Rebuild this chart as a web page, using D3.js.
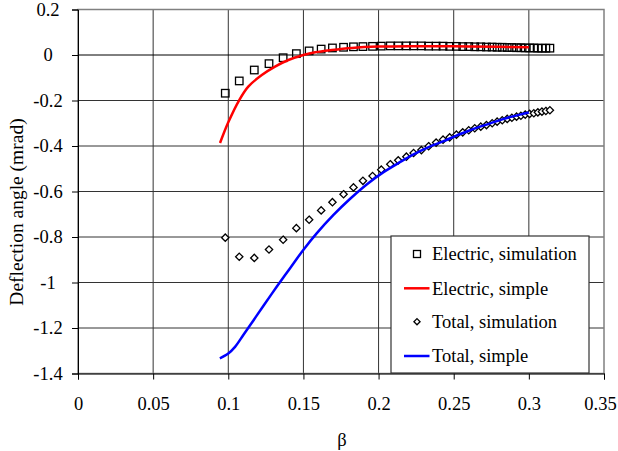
<!DOCTYPE html>
<html><head><meta charset="utf-8">
<script src="https://cdn.jsdelivr.net/npm/d3@7"></script>
<style>body{margin:0;background:#fff}svg{display:block}text{font-family:"Liberation Serif","Times New Roman",serif;fill:#000}</style>
</head><body><svg id="c" width="618" height="451"></svg>
<script>
const simBeta = [0.098,0.1073,0.1173,0.1271,0.1365,0.1453,0.1538,0.1618,0.1693,0.1767,0.1833,0.1896,0.196,0.2018,0.2078,0.2131,0.2185,0.2233,0.2285,0.2333,0.2383,0.2429,0.2473,0.2518,0.256,0.26,0.264,0.268,0.2718,0.2756,0.2789,0.2823,0.2856,0.2887,0.2918,0.2947,0.2976,0.3005,0.3033,0.306,0.3087,0.3113,0.314];
const electricSim = [-0.168,-0.114,-0.066,-0.038,-0.012,0.006,0.018,0.026,0.031,0.034,0.036,0.037,0.038,0.039,0.040,0.040,0.040,0.040,0.040,0.039,0.039,0.039,0.038,0.038,0.037,0.037,0.036,0.036,0.035,0.035,0.034,0.034,0.033,0.033,0.032,0.032,0.031,0.031,0.031,0.030,0.030,0.030,0.030];
const totalSim = [-0.803,-0.887,-0.892,-0.855,-0.812,-0.761,-0.724,-0.683,-0.647,-0.612,-0.582,-0.553,-0.532,-0.504,-0.480,-0.463,-0.447,-0.431,-0.418,-0.401,-0.385,-0.372,-0.362,-0.350,-0.340,-0.331,-0.322,-0.315,-0.308,-0.300,-0.293,-0.287,-0.281,-0.276,-0.271,-0.267,-0.262,-0.259,-0.256,-0.252,-0.249,-0.246,-0.243];
const electricSimpleBeta = [0.0945,0.1,0.1073,0.1133,0.1223,0.1311,0.14,0.15,0.1578,0.1689,0.1823,0.2,0.22,0.25,0.28,0.30];
const electricSimple = [-0.387,-0.296,-0.198,-0.139,-0.088,-0.051,-0.022,0.0,0.012,0.022,0.031,0.037,0.039,0.038,0.036,0.034];
const totalSimpleBeta = [0.0944,0.1,0.1045,0.11,0.1166,0.1233,0.1322,0.141,0.1499,0.1588,0.17,0.1811,0.1923,0.2033,0.2145,0.2233,0.2333,0.2429,0.2518,0.26,0.268,0.2756,0.2823,0.2887,0.2947,0.30];
const totalSimple = [-1.333,-1.312,-1.283,-1.231,-1.168,-1.103,-1.019,-0.938,-0.857,-0.784,-0.703,-0.632,-0.568,-0.515,-0.470,-0.437,-0.405,-0.380,-0.354,-0.333,-0.314,-0.297,-0.283,-0.271,-0.261,-0.253];
const xTicks = [0,0.05,0.1,0.15,0.2,0.25,0.3,0.35];
const yTicks = [0.2,0,-0.2,-0.4,-0.6,-0.8,-1,-1.2,-1.4];
const legendLabels = ["Electric, simulation","Electric, simple","Total, simulation","Total, simple"];

const svg = d3.select("#c");
const L=78, R=604, T=9.5, B=373.5;
const x = d3.scaleLinear().domain([0,0.35]).range([L,R]);
const y = d3.scaleLinear().domain([-1.4,0.2]).range([B,T]);

// gridlines
const g = svg.append("g");
g.selectAll("line.v").data(xTicks.slice(1,-1)).join("line")
  .attr("x1",d=>x(d)).attr("x2",d=>x(d)).attr("y1",T).attr("y2",B)
  .attr("stroke","#333").attr("stroke-width",1);
g.selectAll("line.h").data(yTicks.slice(1,-1)).join("line")
  .attr("x1",L).attr("x2",R).attr("y1",d=>y(d)).attr("y2",d=>y(d))
  .attr("stroke",d=>d===0?"#000":"#333").attr("stroke-width",1);
svg.append("rect").attr("x",L).attr("y",T).attr("width",R-L).attr("height",B-T)
  .attr("fill","none").attr("stroke","#808080").attr("stroke-width",1.5);

// axes
const fs = 18.5;
const xAxis = svg.append("g").attr("transform",`translate(0,${B})`)
  .call(d3.axisBottom(x).tickValues(xTicks).tickSize(6).tickFormat(d=>String(+d.toFixed(2))));
xAxis.select(".domain").attr("stroke","#000");
xAxis.selectAll("text").attr("font-size",fs).attr("dy","1.5em").attr("font-family","Liberation Serif")
  .attr("dx",d=>d===0.35?-4:0);
const yAxis = svg.append("g").attr("transform",`translate(${L},0)`)
  .call(d3.axisLeft(y).tickValues(yTicks).tickSize(6).tickFormat(d=>String(+d.toFixed(1))));
yAxis.select(".domain").attr("stroke","#000");
yAxis.selectAll("text").attr("font-size",fs).attr("text-anchor","middle").attr("x",-30).attr("font-family","Liberation Serif");

// axis titles
svg.append("text").attr("x",342).attr("y",446).attr("text-anchor","middle").attr("font-size",fs).text("β");
svg.append("text").attr("transform","translate(23,212) rotate(-90)").attr("text-anchor","middle").attr("font-size",19.5).text("Deflection angle (mrad)");

// markers
const sq = 7.5;
const simIdx = d3.range(simBeta.length);
svg.append("g").selectAll("rect").data(simIdx).join("rect")
  .attr("x",i=>x(simBeta[i])-sq/2).attr("y",i=>y(electricSim[i])-sq/2)
  .attr("width",sq).attr("height",sq).attr("fill","none").attr("stroke","#000").attr("stroke-width",1.3);
const line = d3.line().curve(d3.curveCatmullRom.alpha(0.5));
svg.append("path").attr("d",line(electricSimpleBeta.map((b,i)=>[x(b),y(electricSimple[i])])))
  .attr("fill","none").attr("stroke","#ff0000").attr("stroke-width",2.5);
const dia = d3.symbol().type(d3.symbolDiamond2).size(34);
svg.append("g").selectAll("path").data(simIdx).join("path")
  .attr("transform",i=>`translate(${x(simBeta[i])},${y(totalSim[i])})`)
  .attr("d",dia).attr("fill","#fff").attr("stroke","#000").attr("stroke-width",1.3);
svg.append("path").attr("d",line(totalSimpleBeta.map((b,i)=>[x(b),y(totalSimple[i])])))
  .attr("fill","none").attr("stroke","#0000ff").attr("stroke-width",2.5);

// legend
const lg = svg.append("g");
lg.append("rect").attr("x",391).attr("y",236).attr("width",198).attr("height",137)
  .attr("fill","#fff").attr("stroke","#333").attr("stroke-width",1.2);
const rowY = [254,288.3,321.7,356];
legendLabels.forEach((t,i)=>{
  const cy=rowY[i];
  if(i===0) lg.append("rect").attr("x",417-3.5).attr("y",cy-3.5).attr("width",7).attr("height",7).attr("fill","none").attr("stroke","#000").attr("stroke-width",1.3);
  if(i===2) lg.append("path").attr("transform",`translate(417,${cy})`).attr("d",d3.symbol().type(d3.symbolDiamond2).size(24)).attr("fill","#fff").attr("stroke","#000").attr("stroke-width",1.3);
  if(i===1||i===3) lg.append("line").attr("x1",404).attr("x2",429.5).attr("y1",cy).attr("y2",cy).attr("stroke",i===1?"#ff0000":"#0000ff").attr("stroke-width",2.5);
  lg.append("text").attr("x",432).attr("y",cy).attr("dy","0.35em").attr("font-size",fs).text(t);
});
</script></body></html>
